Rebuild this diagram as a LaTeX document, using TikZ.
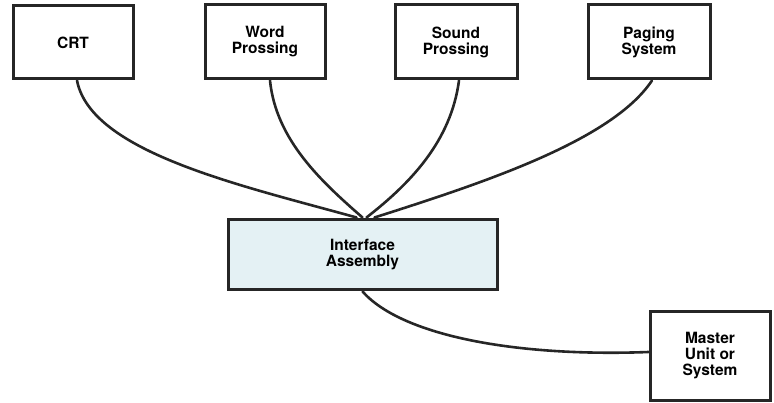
\documentclass[tikz,border=0pt]{standalone}
\usepackage{fontspec}
\setmainfont{TeX Gyre Heros}
\usetikzlibrary{calc}
\definecolor{ifill}{HTML}{E4F1F4}
\tikzset{
  box/.style={draw=black!85, line width=3pt, inner sep=0pt, align=center,
    font=\bfseries\fontsize{15.5}{16}\selectfont},
  wire/.style={draw=black!85, line width=2.6pt, line cap=round},
}
\begin{document}
\begin{tikzpicture}[x=1pt,y=-1pt]
\useasboundingbox (0,0) rectangle (774,403);
\node[box, minimum width=120, minimum height=73] (crt) at (73,42.5) {CRT};
\node[box, minimum width=120, minimum height=74] (word) at (265,42) {Word\\Prossing};
\node[box, minimum width=122, minimum height=74] (sound) at (456,42) {Sound\\Prossing};
\node[box, minimum width=122, minimum height=74] (paging) at (649,42) {Paging\\System};
\node[box, fill=ifill, minimum width=269, minimum height=70] (iface) at (362.5,255) {Interface\\Assembly};
\node[box, minimum width=120, minimum height=88] (master) at (710,356) {Master\\Unit or\\System};
\coordinate (t1) at ($(iface.north)+(-6,-1)$);
\coordinate (t2) at ($(iface.north)+(0,-1)$);
\coordinate (t3) at ($(iface.north)+(4,-1)$);
\coordinate (t4) at ($(iface.north)+(12,-1)$);
\draw[wire] ([xshift=4]crt.south) .. controls +(14,72) and +(-115,-32) .. (t1);
\draw[wire] ([xshift=5]word.south) .. controls +(6,60) and +(-40,-35) .. (t2);
\draw[wire] ([xshift=3]sound.south) .. controls +(-8,60) and +(45,-35) .. (t3);
\draw[wire] ([xshift=3]paging.south) .. controls +(-40,60) and +(110,-35) .. (t4);
\draw[wire] (iface.south) .. controls +(40,45) and +(-130,5) .. ([yshift=4]master.west);
\end{tikzpicture}
\end{document}
